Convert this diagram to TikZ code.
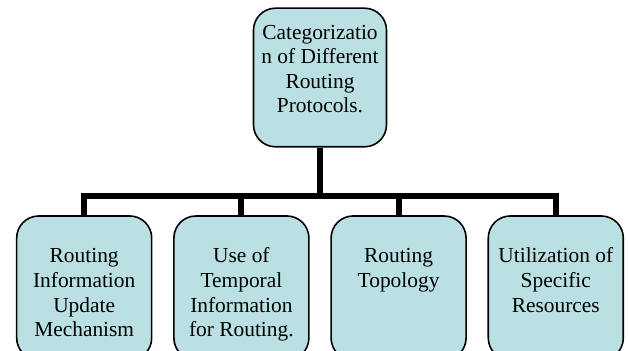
\documentclass[tikz,border=0pt]{standalone}
\usepackage{fontspec}
\setmainfont{Liberation Serif}
\usetikzlibrary{matrix}

\definecolor{boxfill}{RGB}{187,224,227}

\newcommand{\boxlines}[3]{\parbox[c][#1][t]{64pt}{\centering\rule{0pt}{#2}#3}}

\tikzset{
    catbox/.style={draw, line width=0.8pt, rounded corners=11pt, fill=boxfill,
        inner sep=0pt, minimum width=#1, font=\fontsize{10.7}{12.3}\selectfont},
    catbox/.default=67.5pt,
    bus/.style={line width=3pt}
}

\begin{document}
\begin{tikzpicture}

    \useasboundingbox (0,0) rectangle (314pt,-175.5pt);
    \clip (0,0) rectangle (314pt,-175.5pt);

    \coordinate (bar) at (0,-98pt);

    \node[catbox=66.5pt] (top) at (160pt,-38.75pt)
    {\boxlines{69.3pt}{15.5pt}{Categorizatio\\ n of Different\\ Routing\\ Protocols.}};

    \matrix[matrix of nodes, nodes={catbox}, column sep=10.3pt, inner sep=0pt] (mat) at (160pt,-144pt)
    {
        \boxlines{72pt}{23.5pt}{Routing\\ Information\\ Update\\ Mechanism} &
        \boxlines{72pt}{23.5pt}{Use of\\ Temporal\\ Information\\ for Routing.} &
        \boxlines{72pt}{23.5pt}{Routing\\ Topology} &
        \boxlines{72pt}{23.5pt}{Utilization of\\ Specific\\ Resources} \\
    };

    \draw[bus] (top.south) -- (top.south |- bar);

    \draw[bus] (mat-1-1.north) -- (mat-1-1.north |- bar) -- (mat-1-4.north |- bar) -- (mat-1-4.north);
    \draw[bus] (mat-1-2.north |- bar) -- (mat-1-2.north);
    \draw[bus] (mat-1-3.north |- bar) -- (mat-1-3.north);

\end{tikzpicture}
\end{document}
